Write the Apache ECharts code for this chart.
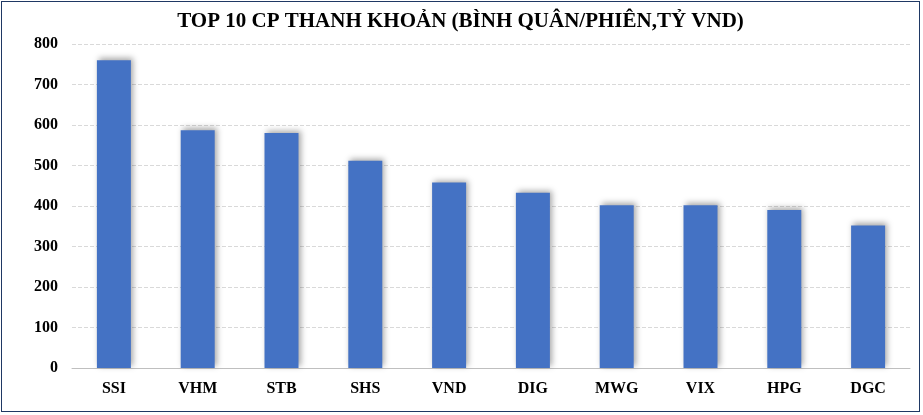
<!DOCTYPE html>
<html><head><meta charset="utf-8">
<script src="https://cdn.jsdelivr.net/npm/echarts@6/dist/echarts.min.js"></script>
<style>
html,body{margin:0;padding:0;background:#fff}
#chart{position:absolute;left:1px;top:1px;width:917px;height:409px;border:1.5px solid #1f3864;}
</style></head>
<body><div id="chart"></div>
<script>
var categories = ['SSI', 'VHM', 'STB', 'SHS', 'VND', 'DIG', 'MWG', 'VIX', 'HPG', 'DGC'];
var values = [760, 587, 580, 512, 458, 433, 402, 402, 390, 352];

var chart = echarts.init(document.getElementById('chart'));
chart.setOption({
    animation: false,
    title: {
        text: 'TOP 10 CP THANH KHOẢN (BÌNH QUÂN/PHIÊN,TỶ VND)',
        left: 'center',
        top: 4,
        textStyle: {fontFamily: 'Liberation Serif', fontSize: 21, fontWeight: 'bold', color: '#000'}
    },
    grid: {left: 70, right: 9, top: 42, bottom: 43},
    xAxis: {
        type: 'category',
        data: categories,
        axisTick: {show: false},
        axisLine: {lineStyle: {color: '#bfbfbf'}},
        axisLabel: {fontFamily: 'Liberation Serif', fontSize: 16, fontWeight: 'bold', color: '#000', margin: 13}
    },
    yAxis: {
        type: 'value',
        min: 0, max: 800, interval: 100,
        splitLine: {lineStyle: {color: '#d9d9d9', type: 'dashed'}},
        axisLabel: {fontFamily: 'Liberation Serif', fontSize: 16, fontWeight: 'bold', color: '#000', margin: 14}
    },
    series: [{
        type: 'bar',
        data: values,
        barWidth: 34,
        itemStyle: {
            color: '#4472c4',
            shadowColor: 'rgba(0,0,0,0.35)',
            shadowBlur: 6,
            shadowOffsetX: 2,
            shadowOffsetY: -2
        }
    }]
});
</script></body></html>
